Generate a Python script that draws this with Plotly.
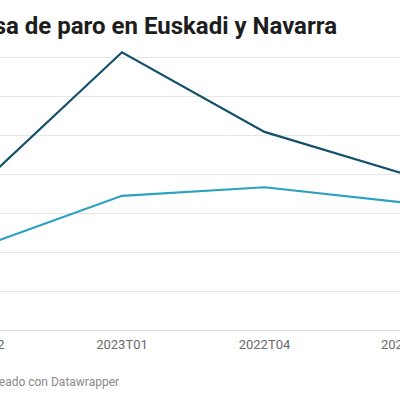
import plotly.graph_objects as go

# trimestres (orden tal como aparece en el grafico)
trimestres = ["2023T02", "2023T01", "2022T04", "2022T03"]

# tasa de paro (%)
navarra = [8.85, 10.56, 9.54, 8.99]
euskadi = [8.06, 8.72, 8.83, 8.63]

# el grafico original esta recortado: el primer y ultimo trimestre caen
# justo fuera del borde
x_range = [0.144, 2.951]


def paper_x(i):
    # posicion de una categoria en coordenadas "paper"
    return (i - x_range[0]) / (x_range[1] - x_range[0])


fig = go.Figure()

fig.add_trace(
    go.Scatter(
        x=trimestres,
        y=navarra,
        mode="lines",
        name="Navarra",
        line=dict(color="#12506c", width=2.2),
    )
)
fig.add_trace(
    go.Scatter(
        x=trimestres,
        y=euskadi,
        mode="lines",
        name="Euskadi",
        line=dict(color="#2ca1c1", width=2.2),
    )
)

# etiquetas de los trimestres que quedan fuera del rango (cortadas en el borde)
edge_labels = [
    dict(
        text=trimestres[i],
        xref="paper",
        yref="paper",
        x=paper_x(i),
        y=-14 / 285,
        xanchor="center",
        yanchor="middle",
        showarrow=False,
        font=dict(family="Roboto", size=13, color="#6b6b6b"),
    )
    for i in (0, len(trimestres) - 1)
]

fig.update_layout(
    width=400,
    height=400,
    margin=dict(l=0, r=0, t=45, b=70),
    paper_bgcolor="white",
    plot_bgcolor="white",
    showlegend=False,
    font=dict(family="Roboto", color="#6b6b6b", size=13),
    title=dict(
        text="<b>Tasa de paro en Euskadi y Navarra</b>",
        font=dict(family="Roboto", size=24, color="#1d1d1d"),
        x=337 / 400,
        xanchor="right",
        y=0.935,
        yanchor="middle",
    ),
    xaxis=dict(
        type="category",
        range=x_range,
        showgrid=False,
        showline=True,
        linecolor="#dcdcdc",
        linewidth=1,
        ticks="",
        ticklabelstandoff=2,
        tickfont=dict(size=13, color="#6b6b6b"),
        fixedrange=True,
    ),
    yaxis=dict(
        range=[7, 7 + 285 / 78],
        tick0=7,
        dtick=0.5,
        showticklabels=False,
        gridcolor="#e6e6e6",
        gridwidth=1,
        zeroline=False,
        fixedrange=True,
    ),
    annotations=edge_labels
    + [
        dict(
            text="Creado con Datawrapper",
            xref="paper",
            yref="paper",
            x=121 / 400,
            y=-52 / 285,
            xanchor="right",
            yanchor="middle",
            showarrow=False,
            font=dict(family="Roboto", size=12, color="#8a8a8a"),
        )
    ],
)

# sin margen del body para que la figura ocupe justo la ventana
fig.write_html(
    "out.html",
    config={"displayModeBar": False},
    post_script="document.body.style.margin='0';",
)
